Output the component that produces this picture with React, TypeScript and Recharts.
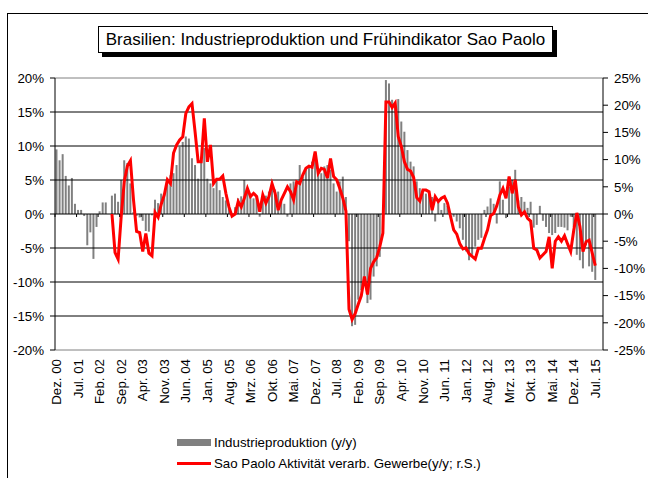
import React from "react";
import {
    ComposedChart,
    Bar,
    Line,
    XAxis,
    YAxis,
    ReferenceLine,
    Legend,
} from "recharts";

// Monatsachse: Dez. 00 bis Sep. 15 (die Achse läuft zwei Monate über die Daten hinaus)
const MONTHS = ["Jan.", "Feb.", "Mrz.", "Apr.", "Mai.", "Jun.", "Jul.", "Aug.", "Sep.", "Okt.", "Nov.", "Dez."];
const FIRST_YEAR = 2000;
const FIRST_MONTH = 11; // Dez.
const MONTH_COUNT = 178;

// Industrieproduktion y/y in %, Dez. 00 - Jul. 15 (linke Achse)
const industrie = [
    9.5, 7.9, 8.8, 5.6, 4.2, 5.3, 1.5, 0.6, 0.6, -0.3, -4.6, -2.7, -6.6, -1.9,
    0.4, 1.7, 1.7, 0.0, 2.7, 3.0, 1.8, 5.0, 7.9, 7.5, 4.5, 0.3, -0.3, -0.5,
    -1.0, -2.5, -2.6, -0.2, 2.1, 1.6, 3.0, 3.0, 4.4, 5.7, 6.0, 7.2, 9.9, 10.6,
    11.4, 11.1, 8.2, 7.2, 5.2, 7.5, 9.7, 5.2, 4.5, 3.8, 5.0, 3.5, 2.5, 2.0,
    1.5, -0.3, 1.0, 2.3, 2.6, 5.0, 3.3, 2.8, 2.3, 2.5, -0.4, 2.6, 2.7, 3.3,
    4.0, 3.6, 3.3, 1.8, 1.5, -0.4, 4.5, 4.8, 4.3, 7.2, 5.5, 6.5, 7.0, 7.7,
    8.4, 6.7, 6.0, 7.0, 7.2, 6.5, 4.5, 3.3, 4.8, 5.5, 2.5, -4.0, -16.5, -16.3,
    -12.6, -11.2, -9.7, -13.1, -12.6, -9.2, -7.7, -6.3, -2.3, 19.7, 19.2, 16.8, 16.3, 16.9,
    13.6, 12.1, 9.4, 7.7, 7.0, 4.8, 3.8, 3.5, 3.0, 2.8, 2.5, -1.1, 2.1, 0.6,
    1.6, 1.2, 0.1, -0.4, -1.1, -2.1, -3.8, -5.5, -6.8, -6.0, -4.8, -3.8, -3.5, 0.6,
    1.1, 2.3, 1.5, -1.4, 4.8, 2.1, -0.6, 4.0, 5.0, 6.5, 2.0, 2.5, 1.8, 0.9,
    1.8, -2.0, -1.6, 1.2, -1.0, -1.9, -2.8, -3.1, -2.8, -1.9, -1.9, -2.0, -2.4, -0.4,
    -1.9, -6.0, -6.8, -8.0, -4.6, -7.7, -8.5, -9.7,
];

// Sao Paolo Aktivität verarb. Gewerbe y/y in %, ab Jun. 02 (rechte Achse)
const saoPaoloStart = 18;
const saoPaolo = [
    0.0, -7.1, -8.3, -0.5, 6.0, 8.8, 9.8, 2.6, -3.2, -3.4, -6.9, -3.6, -7.2, -7.7,
    0.3, -0.6, 1.8, 3.5, 6.3, 5.6, 11.2, 12.7, 13.6, 14.2, 18.5, 19.7, 20.3, 15.1,
    9.6, 9.6, 17.6, 9.6, 12.7, 5.6, 6.4, 6.4, 7.0, 3.8, 1.3, -0.4, 0.0, 2.3,
    1.3, 2.9, 4.7, 3.2, 3.8, 3.2, 0.4, 3.5, 2.0, 3.2, 5.6, 3.8, 0.7, 2.6,
    3.8, 5.0, 4.1, 2.6, 5.9, 5.6, 7.2, 8.4, 8.8, 8.6, 11.5, 7.5, 8.4, 8.2,
    6.6, 10.2, 6.9, 6.3, 4.7, 2.9, 0.5, -17.5, -19.4, -18.3, -16.6, -15.0, -11.5, -14.8,
    -10.0, -8.8, -8.0, -6.0, -3.5, 20.6, 20.6, 19.6, 20.4, 14.2, 12.4, 9.6, 8.2, 7.9,
    6.7, 3.0, 2.4, 4.4, 4.4, 4.1, 0.7, 3.2, 2.3, 2.9, 3.2, 2.0, -0.5, -2.9,
    -3.7, -5.5, -6.4, -6.2, -7.3, -7.8, -8.3, -6.3, -6.3, -4.5, -2.9, -0.3, 0.1, 1.5,
    3.5, 4.7, 2.9, 6.9, 3.8, 6.3, 1.3, -0.2, 0.4, -0.8, -1.3, -6.3, -6.6, -8.1,
    -7.5, -6.9, -4.2, -10.0, -5.0, -4.2, -5.0, -4.0, -5.5, -6.9, -3.0, 0.2, -2.3, -6.9,
    -5.1, -4.8, -7.2, -9.5,
];

const leftTicks = [-20, -15, -10, -5, 0, 5, 10, 15, 20];
const rightTicks = [-25, -20, -15, -10, -5, 0, 5, 10, 15, 20, 25];
const innerGrid = [-15, -10, -5, 0, 5, 10, 15];

const FONT = "'Liberation Sans', Arial, sans-serif";
const PLOT_TOP = 78;
const PLOT_H = 272;
const PLOT_W = 548;
const LABEL_GAP = 9;

const data = Array.from({ length: MONTH_COUNT }, (_, i) => {
    const m = (FIRST_MONTH + i) % 12;
    const y = FIRST_YEAR + Math.floor((FIRST_MONTH + i) / 12);
    const sp = i - saoPaoloStart;
    return {
        label: `${MONTHS[m]} ${String(y % 100).padStart(2, "0")}`,
        ind: i < industrie.length ? industrie[i] : null,
        sp: sp >= 0 && sp < saoPaolo.length ? saoPaolo[sp] : null,
    };
});

// rotated month label + small tick on the zero line (Excel puts the category axis at 0)
function MonthTick(props: any) {
    const { x, y, payload } = props;
    const band = PLOT_W / MONTH_COUNT;
    const zeroY = PLOT_TOP + PLOT_H / 2;
    return (
        <g>
            <line x1={x - band / 2} x2={x - band / 2} y1={zeroY} y2={zeroY + 3} stroke="#000" />
            <text
                x={x}
                y={y}
                transform={`rotate(-90 ${x} ${y})`}
                textAnchor="end"
                dy="0.35em"
                fontSize={13.3}
                fontFamily={FONT}
                fill="#000"
            >
                {payload.value}
            </text>
        </g>
    );
}

function ChartLegend() {
    const row: React.CSSProperties = { display: "flex", alignItems: "center", height: 21 };
    return (
        <div style={{ fontFamily: FONT, fontSize: 13.3, color: "#000" }}>
            <div style={row}>
                <div style={{ width: 34, height: 7, background: "#808080", marginRight: 3 }} />
                <span>Industrieproduktion (y/y)</span>
            </div>
            <div style={row}>
                <div style={{ width: 34, height: 3, background: "#ff0000", marginRight: 3 }} />
                <span>Sao Paolo Aktivität verarb. Gewerbe(y/y; r.S.)</span>
            </div>
        </div>
    );
}

export default function App() {
    return (
        <div style={{ position: "fixed", left: 0, top: 0, width: 648, height: 478, background: "#fff", overflow: "hidden" }}>
            {/* outer chart frame */}
            <div style={{ position: "absolute", left: 7, top: 13, width: 700, height: 500, border: "1px solid #000" }} />

            {/* title box with shadow */}
            <div
                style={{
                    position: "absolute",
                    left: 98,
                    top: 26,
                    width: 453,
                    height: 25,
                    border: "1px solid #000",
                    boxShadow: "4px 4px 0 #000",
                    background: "#fff",
                    fontFamily: FONT,
                    fontSize: 17,
                    lineHeight: "25px",
                    textAlign: "center",
                    color: "#000",
                    zIndex: 2,
                }}
            >
                Brasilien: Industrieproduktion und Frühindikator Sao Paolo
            </div>

            <ComposedChart
                width={648}
                height={478}
                data={data}
                margin={{ top: PLOT_TOP, right: 0, bottom: 0, left: 5 }}
                barCategoryGap="16%"
                style={{ position: "absolute", left: 0, top: 0 }}
            >
                <XAxis
                    dataKey="label"
                    interval={6}
                    height={478 - PLOT_TOP - PLOT_H}
                    axisLine={false}
                    tickLine={false}
                    tickSize={0}
                    tickMargin={LABEL_GAP}
                    tick={<MonthTick />}
                />
                <YAxis
                    yAxisId="l"
                    domain={[-20, 20]}
                    ticks={leftTicks}
                    interval={0}
                    allowDataOverflow
                    width={50}
                    tickFormatter={(v) => `${v}%`}
                    tick={{ fill: "#000", fontSize: 13.3, fontFamily: FONT }}
                    axisLine={{ stroke: "#000" }}
                    tickLine={{ stroke: "#000" }}
                    tickSize={5}
                    tickMargin={6}
                />
                <YAxis
                    yAxisId="r"
                    orientation="right"
                    domain={[-25, 25]}
                    ticks={rightTicks}
                    interval={0}
                    allowDataOverflow
                    width={45}
                    tickFormatter={(v) => `${v}%`}
                    tick={{ fill: "#000", fontSize: 13.3, fontFamily: FONT, textAnchor: "start" }}
                    axisLine={{ stroke: "#000" }}
                    tickLine={{ stroke: "#000" }}
                    tickSize={5}
                    tickMargin={6}
                />
                {innerGrid.map((v) => (
                    <ReferenceLine key={v} yAxisId="l" y={v} stroke="#000" />
                ))}
                <ReferenceLine yAxisId="l" y={20} stroke="#808080" />
                <ReferenceLine yAxisId="l" y={-20} stroke="#808080" />
                <Bar yAxisId="l" dataKey="ind" fill="#808080" isAnimationActive={false} />
                <Line
                    yAxisId="r"
                    dataKey="sp"
                    type="linear"
                    stroke="#ff0000"
                    strokeWidth={3}
                    dot={false}
                    activeDot={false}
                    isAnimationActive={false}
                />
                <Legend
                    layout="vertical"
                    align="center"
                    verticalAlign="middle"
                    wrapperStyle={{ left: 177, top: 432, width: 360, height: 42 }}
                    content={() => <ChartLegend />}
                />
            </ComposedChart>
        </div>
    );
}
